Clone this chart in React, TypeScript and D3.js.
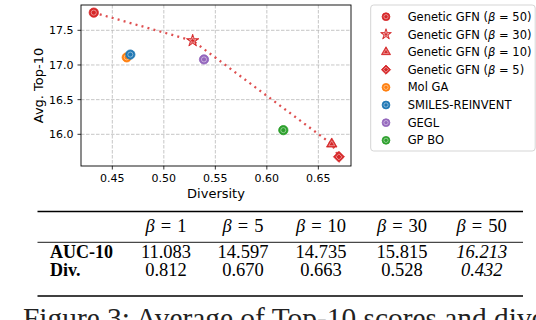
import * as d3 from 'd3'

const names = ['Genetic GFN', 'Genetic GFN', 'Genetic GFN', 'Genetic GFN', 'Mol GA', 'SMILES-REINVENT', 'GEGL', 'GP BO']
const betas = ['50', '30', '10', '5', '', '', '', '']
const divX = [0.432, 0.528, 0.663, 0.67, 0.464, 0.4675, 0.539, 0.616]
const topY = [17.755, 17.35, 15.86, 15.675, 17.11, 17.15, 17.08, 16.06]
const colors = ['#d62728', '#d62728', '#d62728', '#d62728', '#ff7f0e', '#1f77b4', '#9467bd', '#2ca02c']
const shapes = ['circle', 'star', 'triangle', 'diamond', 'circle', 'circle', 'circle', 'circle']
const frontier = [0, 1, 2, 3]

const xTicks = [0.45, 0.5, 0.55, 0.6, 0.65]
const yTicks = [16.0, 16.5, 17.0, 17.5]

const tableBetas = ['1', '5', '10', '30', '50']
const aucVals = ['11.083', '14.597', '14.735', '15.815', '16.213']
const divVals = ['0.812', '0.670', '0.663', '0.528', '0.432']

const sans = 'DejaVu Sans, sans-serif'
const serif = 'Liberation Serif, Times New Roman, serif'

const symbolPath = (shape: string, size: number) => {
  const t = shape === 'star' ? d3.symbolStar : shape === 'triangle' ? d3.symbolTriangle : shape === 'diamond' ? d3.symbolSquare : d3.symbolCircle
  return d3.symbol(t, size)() as string
}

function Marker({ x, y, shape, color, size }: { x: number; y: number; shape: string; color: string; size: number }) {
  const d = symbolPath(shape, size)
  const rot = shape === 'diamond' ? ' rotate(45)' : ''
  return (
    <g transform={`translate(${x},${y})${rot}`}>
      <path d={d} fill={color} stroke={color} strokeWidth={0.8} />
      <path d={d} transform="scale(0.55)" fill="none" stroke="#fff" strokeWidth={1.1} opacity={0.75} />
    </g>
  )
}

export default function App() {
  const left = 81, right = 351, top = 5, bottom = 166
  const x = d3.scaleLinear().domain([0.4196, 0.6817]).range([left, right])
  const y = d3.scaleLinear().domain([15.543, 17.865]).range([bottom, top])
  const line = d3.line<number>().x(i => x(divX[i])).y(i => y(topY[i]))

  const colX = [166, 243, 321, 402, 481.7]
  const sizes: Record<string, number> = { circle: 68, star: 48, triangle: 48, diamond: 60 }
  const legSizes: Record<string, number> = { circle: 48, star: 36, triangle: 36, diamond: 42 }

  return (
    <svg width={536} height={320} style={{ position: 'absolute', left: 0, top: 0, background: '#fff' }}>
      {/* grid */}
      {xTicks.map(t => (
        <line key={'gx' + t} x1={x(t)} x2={x(t)} y1={top} y2={bottom} stroke="#b8b8b8" strokeWidth={0.8} strokeDasharray="3.5,1.5" />
      ))}
      {yTicks.map(t => (
        <line key={'gy' + t} x1={left} x2={right} y1={y(t)} y2={y(t)} stroke="#b8b8b8" strokeWidth={0.8} strokeDasharray="3.5,1.5" />
      ))}

      {/* frontier */}
      <path d={line(frontier) as string} fill="none" stroke="#de4f50" strokeWidth={2.3} strokeDasharray="2,4.2" />

      {divX.map((v, i) => (
        <Marker key={i} x={x(v)} y={y(topY[i])} shape={shapes[i]} color={colors[i]} size={sizes[shapes[i]]} />
      ))}

      {/* frame */}
      <rect x={left} y={top} width={right - left} height={bottom - top} fill="none" stroke="#000" strokeWidth={0.9} />

      {/* axes */}
      {xTicks.map(t => (
        <g key={'xt' + t}>
          <line x1={x(t)} x2={x(t)} y1={bottom} y2={bottom + 3.5} stroke="#000" strokeWidth={0.8} />
          <text x={x(t)} y={181.5} textAnchor="middle" fontFamily={sans} fontSize={11}>{t.toFixed(2)}</text>
        </g>
      ))}
      {yTicks.map(t => (
        <g key={'yt' + t}>
          <line x1={left - 3.5} x2={left} y1={y(t)} y2={y(t)} stroke="#000" strokeWidth={0.8} />
          <text x={73.5} y={y(t)} dy="0.36em" textAnchor="end" fontFamily={sans} fontSize={11}>{t.toFixed(1)}</text>
        </g>
      ))}
      <text x={(left + right) / 2} y={197.5} textAnchor="middle" fontFamily={sans} fontSize={13}>Diversity</text>
      <text transform={`translate(43,${(top + bottom) / 2}) rotate(-90)`} textAnchor="middle" fontFamily={sans} fontSize={13}>Avg. Top-10</text>

      {/* legend */}
      <rect x={370.7} y={5} width={164.5} height={146} rx={3} fill="#fff" fillOpacity={0.85} stroke="#d0d0d0" strokeWidth={0.9} />
      {names.map((n, i) => {
        const cy = 16.7 + i * 17.66
        return (
          <g key={'lg' + i}>
            <Marker x={386} y={cy} shape={shapes[i]} color={colors[i]} size={legSizes[shapes[i]]} />
            <text x={407.7} y={cy} dy="0.36em" fontFamily={sans} fontSize={11.5}>
              {betas[i] ? (
                <>
                  {n} (<tspan fontStyle="italic">β</tspan> = {betas[i]})
                </>
              ) : n}
            </text>
          </g>
        )
      })}

      {/* table */}
      <line x1={37.5} x2={523} y1={211.5} y2={211.5} stroke="#000" strokeWidth={1.4} />
      <line x1={37.5} x2={523} y1={242.3} y2={242.3} stroke="#000" strokeWidth={0.9} />
      <line x1={37.5} x2={523} y1={296} y2={296} stroke="#000" strokeWidth={1.4} />
      {tableBetas.map((b, i) => (
        <text key={'h' + i} x={colX[i]} y={232.3} textAnchor="middle" fontFamily={serif} fontSize={18.5}>
          <tspan fontStyle="italic">β</tspan>
          <tspan dx={6}>=</tspan>
          <tspan dx={6}>{b}</tspan>
        </text>
      ))}
      <text x={50} y={258.3} fontFamily={serif} fontSize={18} fontWeight="bold">AUC-10</text>
      <text x={50} y={276} fontFamily={serif} fontSize={18} fontWeight="bold">Div.</text>
      {aucVals.map((v, i) => (
        <text key={'a' + i} x={colX[i]} y={258.3} textAnchor="middle" fontFamily={serif} fontSize={18.5} fontStyle={i === 4 ? 'italic' : 'normal'}>{v}</text>
      ))}
      {divVals.map((v, i) => (
        <text key={'d' + i} x={colX[i]} y={276} textAnchor="middle" fontFamily={serif} fontSize={18.5} fontStyle={i === 4 ? 'italic' : 'normal'}>{v}</text>
      ))}

      {/* caption (cut off at the bottom) */}
      <text x={23} y={328} fontFamily={serif} fontSize={29.4} fill="#222">Figure 3: Average of Top-10 scores and diversity</text>
    </svg>
  )
}
